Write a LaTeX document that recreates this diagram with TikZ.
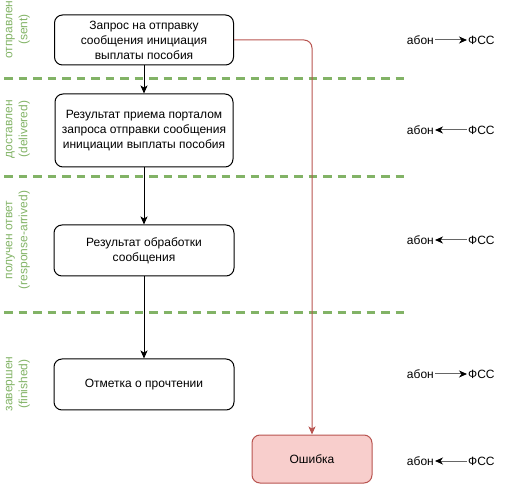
\documentclass[tikz,border=0pt]{standalone}
\usepackage{fontspec}
\setmainfont{Liberation Sans}
\usetikzlibrary{arrows.meta}
\definecolor{grn}{HTML}{82B366}
\definecolor{errfill}{HTML}{F8CECC}
\definecolor{errdraw}{HTML}{B85450}
\tikzset{
  box/.style={draw=black, line width=1pt, rounded corners=8pt, align=center, inner sep=0pt,
    font=\fontsize{12}{15}\selectfont},
  errbox/.style={box, draw=errdraw, fill=errfill},
  flow/.style={draw=black, line width=1pt, -{Stealth[length=8pt,width=7pt,inset=2pt]}},
  errflow/.style={draw=errdraw, line width=1pt, rounded corners=8pt, -{Stealth[length=8pt,width=7pt,inset=2pt]}},
  lane/.style={draw=grn, line width=3pt, dash pattern=on 8.5pt off 6pt},
  lanelbl/.style={text=grn, rotate=90, align=center, inner sep=0pt, font=\fontsize{12}{15}\selectfont},
  side/.style={inner sep=1pt, font=\fontsize{12}{14}\selectfont},
  sidearr/.style={draw=gray!80!black, line width=1pt, -{Stealth[black,length=8pt,width=7pt,inset=2.5pt]}}
}
\begin{document}
\begin{tikzpicture}[x=1pt,y=-1pt]
\path[use as bounding box] (0,0) rectangle (507,484);
% lane separators
\coordinate (l1a) at (4,79); \coordinate (l1b) at (404,79);
\coordinate (l2a) at (4,177); \coordinate (l2b) at (404,177);
\coordinate (l3a) at (4,313); \coordinate (l3b) at (406,313);
\draw[lane] (l1a) -- (l1b);
\draw[lane] (l2a) -- (l2b);
\draw[lane] (l3a) -- (l3b);
% lane labels
\node[lanelbl] (s1) at (18,29.5) {отправлен\\(sent)};
\node[lanelbl] (s2) at (18,129) {доставлен\\(delivered)};
\node[lanelbl] (s3) at (18,240) {получен ответ\\(response-arrived)};
\node[lanelbl] (s4) at (18,384) {завершен\\(finished)};
% boxes
\node[box, minimum width=179pt, minimum height=50pt] (b1) at (144,40) {Запрос на отправку\\сообщения инициация\\выплаты пособия};
\node[box, minimum width=178pt, minimum height=73pt] (b2) at (144,130.5) {Результат приема порталом\\запроса отправки сообщения\\инициации выплаты пособия};
\node[box, minimum width=180pt, minimum height=51pt] (b3) at (144,250.5) {Результат обработки\\сообщения};
\node[box, minimum width=180pt, minimum height=51pt] (b4) at (144,384.5) {Отметка о прочтении};
\node[errbox, minimum width=120pt, minimum height=48pt] (err) at (312,459) {Ошибка};
% flows
\draw[flow] (b1) -- (b2);
\draw[flow] (b2) -- (b3);
\draw[flow] (b3) -- (b4);
\draw[errflow] (b1.east) -| (err.north);
% side labels
\foreach \i/\y in {1/40,2/130,3/240,4/374,5/461}{
  \node[side, anchor=east] (ab\i) at (435,\y) {абон};
  \node[side, anchor=west] (fs\i) at (467,\y) {ФСС};
}
\draw[sidearr] (ab1) -- (fs1);
\draw[sidearr] (fs2) -- (ab2);
\draw[sidearr] (fs3) -- (ab3);
\draw[sidearr] (ab4) -- (fs4);
\draw[sidearr] (fs5) -- (ab5);
\end{tikzpicture}
\end{document}
